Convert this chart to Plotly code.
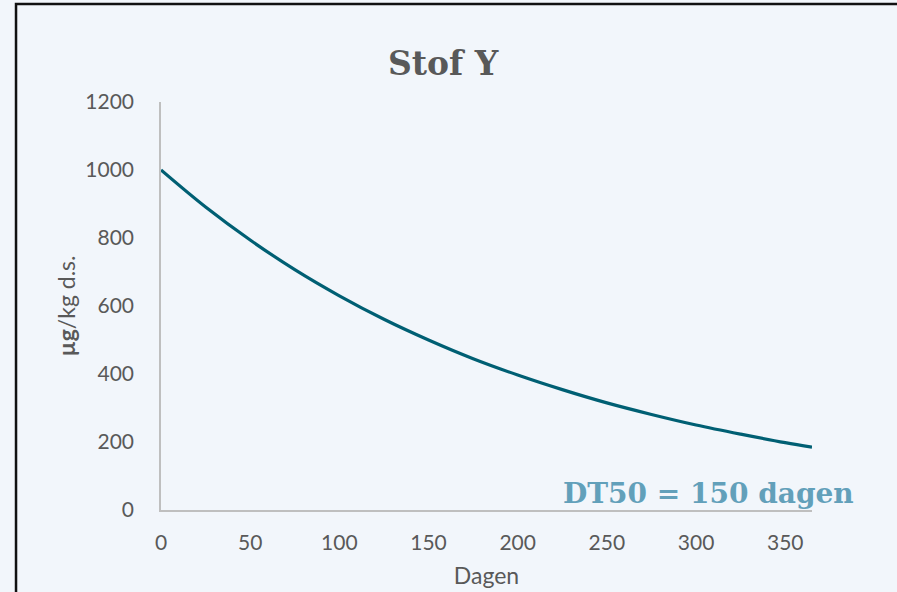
import plotly.graph_objects as go

# Concentration of Stof Y over time (days), read every 25 days
dagen = [0, 25, 50, 75, 100, 125, 150, 175, 200, 225, 250, 275, 300, 325, 350, 365]
concentratie = [1000, 891, 794, 707, 630, 561, 500, 445, 397, 354, 315, 281, 250, 223, 198, 185]

x_ticks = [0, 50, 100, 150, 200, 250, 300, 350]
y_ticks = [0, 200, 400, 600, 800, 1000, 1200]

bg = "#F2F6FB"
grey = "#595959"
axis_grey = "#BFBFBF"
tick_font = dict(family="Lato, 'Open Sans', sans-serif", size=21, color=grey)
axis_title_font = dict(family="Lato, 'Open Sans', sans-serif", size=23, color=grey)

fig = go.Figure()
fig.add_trace(go.Scatter(
    x=dagen, y=concentratie, mode="lines",
    line=dict(color="#005F73", width=3.2, shape="spline"),
    hoverinfo="x+y", showlegend=False,
))

fig.update_layout(
    width=897, height=592,
    margin=dict(l=161, r=85, t=102, b=82),
    paper_bgcolor=bg, plot_bgcolor=bg,
    title=dict(
        text="<b>Stof Y</b>", x=0.494, xanchor="center", y=0.893, yanchor="middle",
        font=dict(family="'DejaVu Serif', serif", size=33, color=grey),
    ),
    xaxis=dict(
        range=[0, 365], tickvals=x_ticks, showgrid=False, zeroline=False,
        showline=True, linecolor=axis_grey, linewidth=1.5, automargin=False,
        ticks="", tickfont=tick_font, ticklabelstandoff=13,
        title=dict(text="Dagen", font=axis_title_font, standoff=15),
    ),
    yaxis=dict(
        range=[0, 1200], tickvals=y_ticks, showgrid=False, zeroline=False,
        showline=True, linecolor=axis_grey, linewidth=1.5, automargin=False,
        ticks="", tickfont=tick_font, ticklabelstandoff=21,
        title=dict(text="<b>µg</b>/kg d.s.", font=axis_title_font, standoff=3),
    ),
    annotations=[dict(
        text="<b>DT50 = 150 dagen</b>", x=307, y=50, xref="x", yref="y",
        xanchor="center", yanchor="middle", showarrow=False,
        font=dict(family="'DejaVu Serif', serif", size=28, color="#62A0BA"),
    )],
    shapes=[dict(
        type="path", xref="paper", yref="paper",
        path="M -0.2227,-0.3 L -0.2227,1.240 L 1.2,1.240",
        line=dict(color="#111111", width=2.5), layer="above",
    )],
)

fig.write_html("out.html")
